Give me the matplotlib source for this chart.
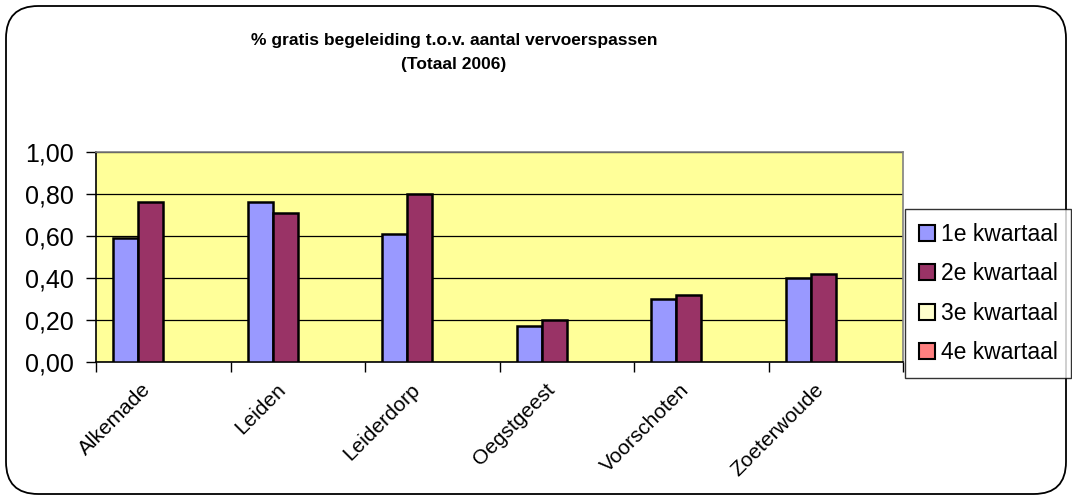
import matplotlib
matplotlib.use("Agg")
import matplotlib.pyplot as plt
from matplotlib.patches import FancyBboxPatch, Patch
from matplotlib.ticker import FuncFormatter, FixedLocator
import matplotlib.transforms as mtrans
import numpy as np

plt.rcParams['font.family'] = ['Liberation Sans', 'DejaVu Sans']

gemeenten = ["Alkemade", "Leiden", "Leiderdorp", "Oegstgeest", "Voorschoten", "Zoeterwoude"]
kwartalen = ["1e kwartaal", "2e kwartaal", "3e kwartaal", "4e kwartaal"]
kw1 = [0.59, 0.76, 0.61, 0.17, 0.30, 0.40]
kw2 = [0.76, 0.71, 0.80, 0.20, 0.32, 0.42]
kw3 = [0, 0, 0, 0, 0, 0]
kw4 = [0, 0, 0, 0, 0, 0]
kleuren = ["#9999FF", "#993366", "#FFFFCC", "#FF8080"]

fig = plt.figure(figsize=(10.72, 4.98), dpi=100)

# afgeronde rand om de grafiek
border = FancyBboxPatch((6 / 1072, 4 / 498), 1060 / 1072, 488 / 498,
                        boxstyle="round,pad=0,rounding_size=0.03",
                        transform=fig.transFigure, facecolor="white",
                        edgecolor="black", linewidth=1.3, zorder=-10,
                        mutation_aspect=1072 / 498)
fig.patches.append(border)

ax = fig.add_axes([96 / 1072, 1 - 362 / 498, 807 / 1072, 210 / 498])
ax.set_facecolor("#FFFF99")

x = np.arange(len(gemeenten))
w = 0.186
reeksen = [kw1, kw2, kw3, kw4]
for i, vals in enumerate(reeksen):
    if max(vals) == 0:
        continue
    ax.bar(x + (i - 1.5) * w, vals, w, color=kleuren[i], edgecolor="black",
           linewidth=1.8, zorder=3)

ax.set_xlim(-0.5, len(gemeenten) - 0.5)
ax.set_ylim(0, 1.0)
ax.set_yticks(np.arange(0, 1.01, 0.2))
ax.yaxis.set_major_formatter(FuncFormatter(lambda v, p: ("%.2f" % v).replace(".", ",")))
ax.yaxis.grid(True, color="black", linewidth=0.9, zorder=1)
ax.tick_params(axis="y", length=7, width=1, labelsize=18, pad=9)

ax.set_xticks(x)
ax.set_xticklabels(gemeenten, rotation=45, ha="right", va="top",
                   rotation_mode="anchor", fontsize=15)
ax.tick_params(axis="x", which="major", length=0, pad=13)
ax.xaxis.set_minor_locator(FixedLocator(np.arange(-0.5, len(gemeenten), 1.0)))
ax.tick_params(axis="x", which="minor", length=7, width=1)
offset = mtrans.ScaledTranslation(-0.22, 0.0, fig.dpi_scale_trans)
for lab in ax.get_xticklabels():
    lab.set_transform(lab.get_transform() + offset)

ax.spines["top"].set_color("#808080")
ax.spines["right"].set_color("#808080")
ax.spines["left"].set_color("black")
ax.spines["bottom"].set_color("black")
for s in ax.spines.values():
    s.set_linewidth(1.2)

fig.text(454 / 1072, 1 - 40 / 498, "% gratis begeleiding t.o.v. aantal vervoerspassen",
         ha="center", va="center", fontsize=12.5, fontweight="bold")
fig.text(454 / 1072, 1 - 64 / 498, "(Totaal 2006)",
         ha="center", va="center", fontsize=12.5, fontweight="bold")

handles = [Patch(facecolor=kleuren[i], edgecolor="black", linewidth=1.5) for i in range(4)]
leg = fig.legend(handles, kwartalen, loc="upper left",
                 bbox_to_anchor=(905 / 1072, 1 - 209 / 498), fontsize=16.5,
                 frameon=True, fancybox=False, edgecolor="black",
                 handlelength=0.7, handleheight=0.7, handletextpad=0.25,
                 labelspacing=0.72, borderpad=0.6, borderaxespad=0)
leg.get_frame().set_linewidth(1.0)

fig.savefig("out.png", dpi=100)
